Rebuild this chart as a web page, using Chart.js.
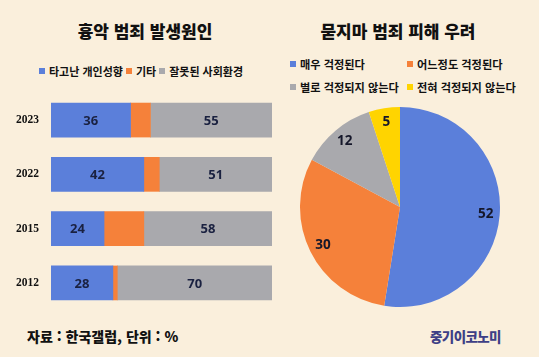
<!DOCTYPE html>
<html lang="ko">
<head>
<meta charset="utf-8">
<script src="https://cdn.jsdelivr.net/npm/chart.js@4"></script>
<style>
  html, body { margin: 0; padding: 0; }
  body { width: 539px; height: 357px; background: #FAEFDC; position: relative; overflow: hidden;
         font-family: "Noto Sans CJK KR", "Noto Sans", sans-serif; color: #111; }
  .abs { position: absolute; white-space: nowrap; }
  .title { font-size: 17px; font-weight: 900; line-height: 20px; }
  .leg { font-weight: 700; line-height: 14px; display: flex; align-items: center; }
  .sq { display: inline-block; width: 6px; height: 6px; margin-right: 4px; }
  canvas { position: absolute; }
</style>
</head>
<body>
<div class="abs title" id="t1" style="left:0;width:290px;text-align:center;top:21px;">흉악 범죄 발생원인</div>
<div class="abs title" id="t2" style="left:280px;width:236px;text-align:center;top:21px;">묻지마 범죄 피해 우려</div>
<div class="abs leg" id="leg1" style="left:39px;top:64px;font-size:11px;"></div>
<div class="abs leg" id="leg2a" style="left:290px;top:57px;font-size:11.2px;"></div>
<div class="abs leg" id="leg2b" style="left:407px;top:57px;font-size:11.2px;"></div>
<div class="abs leg" id="leg2c" style="left:290px;top:80px;font-size:11.2px;"></div>
<div class="abs leg" id="leg2d" style="left:407px;top:80px;font-size:11.2px;"></div>
<canvas id="bar" width="280" height="231" style="left:0;top:86px;"></canvas>
<canvas id="pie" width="220" height="220" style="left:290px;top:97px;"></canvas>
<div class="abs" style="left:27px;top:326px;font-size:14px;font-weight:900;line-height:20px;">자료 : 한국갤럽, 단위 : %</div>
<div class="abs" style="left:430px;top:326px;font-size:13.5px;font-weight:900;line-height:20px;color:#3E3F86;letter-spacing:-0.6px;">중기이코노미</div>
<script>
// ---- data ----
const years = ['2023', '2022', '2015', '2012'];
const causeNames = ['타고난 개인성향', '기타', '잘못된 사회환경'];
const innateValues = [36, 42, 24, 28];
const otherValues = [9, 7, 18, 2];
const environmentValues = [55, 51, 58, 70];
const worryLabels = ['매우 걱정된다', '어느정도 걱정된다', '별로 걱정되지 않는다', '전혀 걱정되지 않는다'];
const worryValues = [52, 30, 12, 5];

// ---- styles ----
const BLUE = '#5B7FDA', ORANGE = '#F5813A', GREY = '#A9A9AD', YELLOW = '#FFD400';
const causeColors = [BLUE, ORANGE, GREY];
const causeShowLabel = [true, false, true];
const worryColors = [BLUE, ORANGE, GREY, YELLOW];

// ---- HTML legends ----
function legItem(color, text, gap) {
  return '<span class="sq" style="background:' + color + '"></span><span style="margin-right:' + gap + 'px">' + text + '</span>';
}
document.getElementById('leg1').innerHTML = causeNames.map((n, i) => legItem(causeColors[i], n, 3)).join('');
['leg2a', 'leg2b', 'leg2c', 'leg2d'].forEach((id, i) => {
  document.getElementById(id).innerHTML = legItem(worryColors[i], worryLabels[i], 0);
});

Chart.defaults.devicePixelRatio = 1;

const barLabelPlugin = {
  id: 'barLabels',
  afterDatasetsDraw(chart) {
    const ctx = chart.ctx;
    ctx.save();
    ctx.font = 'bold 13px "Open Sans", Lato, "Liberation Sans", sans-serif';
    ctx.fillStyle = '#1A2140';
    ctx.textAlign = 'center';
    ctx.textBaseline = 'middle';
    chart.data.datasets.forEach((ds, di) => {
      if (!causeShowLabel[di]) return;
      chart.getDatasetMeta(di).data.forEach((el, i) => {
        const p = el.getCenterPoint();
        ctx.fillText(String(ds.data[i]), p.x, p.y + 1);
      });
    });
    ctx.restore();
  }
};

new Chart(document.getElementById('bar'), {
  type: 'bar',
  data: {
    labels: years,
    datasets: [innateValues, otherValues, environmentValues].map((d, i) => ({
      label: causeNames[i],
      data: d,
      backgroundColor: causeColors[i],
      borderWidth: 0,
      barThickness: 34
    }))
  },
  options: {
    indexAxis: 'y',
    responsive: false,
    animation: false,
    layout: { padding: { top: 0, bottom: 0, right: 8, left: 0 } },
    plugins: { legend: { display: false }, tooltip: { enabled: false } },
    scales: {
      x: { stacked: true, min: 0, max: 100, display: false },
      y: {
        stacked: true,
        grid: { display: true, drawOnChartArea: false, drawTicks: true, tickLength: 12, color: 'rgba(0,0,0,0)' },
        border: { display: false },
        ticks: { color: '#111', padding: 0, font: { family: '"Liberation Serif", "DejaVu Serif", serif', weight: 'bold', size: 11.5 } },
        afterFit(s) { s.width = 51; }
      }
    }
  },
  plugins: [barLabelPlugin]
});

const pieLabelPlugin = {
  id: 'pieLabels',
  afterDatasetsDraw(chart) {
    const ctx = chart.ctx;
    ctx.save();
    ctx.font = 'bold 13.5px "Open Sans", Lato, "Liberation Sans", sans-serif';
    ctx.fillStyle = '#15172A';
    ctx.textAlign = 'center';
    ctx.textBaseline = 'middle';
    const ds = chart.data.datasets[0];
    chart.getDatasetMeta(0).data.forEach((el, i) => {
      const a = (el.startAngle + el.endAngle) / 2;
      const r = el.outerRadius * 0.86;
      ctx.fillText(String(ds.data[i]), el.x + Math.cos(a) * r, el.y + Math.sin(a) * r);
    });
    ctx.restore();
  }
};

new Chart(document.getElementById('pie'), {
  type: 'pie',
  data: {
    labels: worryLabels,
    datasets: [{ data: worryValues, backgroundColor: worryColors, borderWidth: 0 }]
  },
  options: {
    responsive: false,
    animation: false,
    layout: { padding: 10 },
    plugins: { legend: { display: false }, tooltip: { enabled: false } }
  },
  plugins: [pieLabelPlugin]
});
</script>
</body>
</html>
